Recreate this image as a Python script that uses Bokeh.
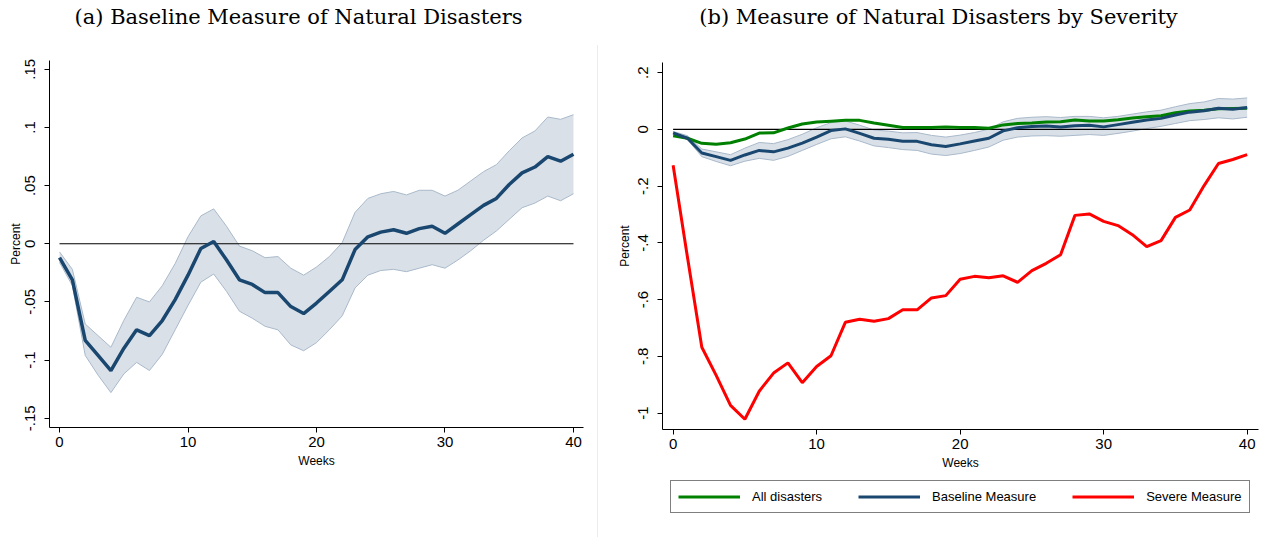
from bokeh.plotting import figure
from bokeh.layouts import row, column
from bokeh.models import FixedTicker, Legend, LegendItem, Div
from bokeh.embed import file_html
from bokeh.resources import INLINE

# ---------------- data ----------------
weeks = list(range(41))

baseline = [-0.012, -0.031, -0.083, -0.096, -0.109, -0.090, -0.074, -0.079, -0.066, -0.048,
            -0.027, -0.004, 0.002, -0.014, -0.031, -0.035, -0.042, -0.042, -0.054, -0.060,
            -0.051, -0.041, -0.031, -0.005, 0.006, 0.010, 0.012, 0.009, 0.013, 0.015,
            0.009, 0.017, 0.025, 0.033, 0.039, 0.051, 0.061, 0.066, 0.075, 0.071, 0.077]

baseline_hi = [-0.007, -0.022, -0.069, -0.079, -0.089, -0.066, -0.046, -0.050, -0.036, -0.017,
               0.006, 0.024, 0.030, 0.015, -0.002, -0.006, -0.012, -0.011, -0.021, -0.027,
               -0.020, -0.011, 0.001, 0.027, 0.039, 0.043, 0.045, 0.042, 0.046, 0.046,
               0.041, 0.046, 0.054, 0.062, 0.068, 0.080, 0.091, 0.097, 0.109, 0.107, 0.111]

baseline_lo = [-0.016, -0.036, -0.096, -0.113, -0.128, -0.112, -0.102, -0.109, -0.095, -0.074,
               -0.053, -0.033, -0.026, -0.041, -0.058, -0.064, -0.071, -0.074, -0.087, -0.092,
               -0.085, -0.074, -0.062, -0.038, -0.027, -0.023, -0.022, -0.024, -0.021, -0.018,
               -0.021, -0.014, -0.006, 0.003, 0.011, 0.021, 0.031, 0.035, 0.041, 0.037, 0.043]

all_disasters = [-0.022, -0.031, -0.049, -0.052, -0.047, -0.034, -0.013, -0.012, 0.005, 0.019,
                 0.026, 0.029, 0.032, 0.032, 0.023, 0.015, 0.007, 0.007, 0.007, 0.009,
                 0.007, 0.007, 0.004, 0.016, 0.021, 0.023, 0.026, 0.027, 0.033, 0.030,
                 0.030, 0.034, 0.040, 0.045, 0.048, 0.059, 0.065, 0.068, 0.073, 0.074, 0.075]

severe = [-0.126, -0.451, -0.768, -0.867, -0.973, -1.022, -0.923, -0.859, -0.823, -0.893,
          -0.836, -0.798, -0.680, -0.669, -0.676, -0.667, -0.636, -0.636, -0.594, -0.586,
          -0.528, -0.518, -0.523, -0.516, -0.539, -0.498, -0.472, -0.442, -0.303, -0.298,
          -0.324, -0.339, -0.371, -0.413, -0.392, -0.310, -0.284, -0.198, -0.120, -0.106, -0.089]

zero_x = [0, 40]
zero_y = [0, 0]

x_ticks = [0, 10, 20, 30, 40]
a_yticks = [-0.15, -0.1, -0.05, 0, 0.05, 0.1, 0.15]
a_ylabels = ["-.15", "-.1", "-.05", "0", ".05", ".1", ".15"]
b_yticks = [-1, -0.8, -0.6, -0.4, -0.2, 0, 0.2]
b_ylabels = ["-1", "-.8", "-.6", "-.4", "-.2", "0", ".2"]

title_a = "(a) Baseline Measure of Natural Disasters"
title_b = "(b) Measure of Natural Disasters by Severity"
legend_labels = ["All disasters", "Baseline Measure", "Severe Measure"]

NAVY = "#1a476f"
BAND_FILL = "#d9e0e8"
BAND_EDGE = "#a9b9ca"
GREEN = "#008000"
RED = "#ff0000"
SANS = "Liberation Sans"
SERIF = "DejaVu Serif"


def style(p, yticks, ylabels, ylab_standoff):
    p.xgrid.visible = False
    p.ygrid.visible = False
    p.outline_line_color = None
    for ax in (p.xaxis[0], p.yaxis[0]):
        ax.axis_line_color = "black"
        ax.axis_line_width = 1
        ax.major_tick_line_color = "black"
        ax.major_tick_out = 5
        ax.major_tick_in = 0
        ax.minor_tick_line_color = None
        ax.major_label_text_font = SANS
        ax.major_label_text_font_size = "15px"
        ax.major_label_text_color = "black"
        ax.axis_label_text_font = SANS
        ax.axis_label_text_font_size = "12px"
        ax.axis_label_text_font_style = "normal"
        ax.axis_label_text_color = "black"
        ax.major_label_standoff = 4
        ax.axis_label_standoff = 4
    p.yaxis.major_label_standoff = 9
    p.yaxis.axis_label_standoff = ylab_standoff
    p.xaxis.ticker = FixedTicker(ticks=x_ticks)
    p.yaxis.ticker = FixedTicker(ticks=yticks)
    p.yaxis.major_label_overrides = dict(zip(yticks, ylabels))
    p.yaxis.major_label_orientation = "vertical"


def title_div(text, width):
    return Div(text=text, width=width, height=40, margin=0,
               styles={"font-family": SERIF, "font-size": "21px", "color": "black",
                       "text-align": "center", "padding-top": "4px", "line-height": "26px",
                       "white-space": "nowrap"})


# ---------------- panel (a) ----------------
pa = figure(width=597, height=497, x_range=(-0.78, 40.78), y_range=(-0.158, 0.1576),
            output_backend="svg", toolbar_location=None,
            x_axis_label="Weeks", y_axis_label="Percent",
            min_border_left=49, min_border_right=14, min_border_top=20, min_border_bottom=110)
style(pa, a_yticks, a_ylabels, 0)
pa.varea(x=weeks, y1=baseline_lo, y2=baseline_hi, fill_color=BAND_FILL)
pa.line(weeks, baseline_lo, line_color=BAND_EDGE, line_width=1)
pa.line(weeks, baseline_hi, line_color=BAND_EDGE, line_width=1)
pa.line(zero_x, zero_y, line_color="black", line_width=1.2)
pa.line(weeks, baseline, line_color=NAVY, line_width=3.5)

# ---------------- panel (b) ----------------
pb = figure(width=681, height=435, x_range=(-0.74, 40.79), y_range=(-1.058, 0.236),
            output_backend="svg", toolbar_location=None,
            x_axis_label="Weeks", y_axis_label="Percent",
            min_border_left=64, min_border_right=21, min_border_top=22, min_border_bottom=46)
style(pb, b_yticks, b_ylabels, 4)
pb.varea(x=weeks, y1=baseline_lo, y2=baseline_hi, fill_color=BAND_FILL)
pb.line(weeks, baseline_lo, line_color=BAND_EDGE, line_width=1)
pb.line(weeks, baseline_hi, line_color=BAND_EDGE, line_width=1)
pb.line(zero_x, zero_y, line_color="black", line_width=1.2)
pb.line(weeks, all_disasters, line_color=GREEN, line_width=3)
pb.line(weeks, baseline, line_color=NAVY, line_width=3)
pb.line(weeks, severe, line_color=RED, line_width=3)

# ---------------- legend strip under panel (b) ----------------
# the series are re-drawn here outside the visible x range, only to feed the legend keys
lf = figure(width=681, height=62, x_range=(-20, -19), y_range=(-1.1, 0.3),
            output_backend="svg", toolbar_location=None,
            x_axis_type=None, y_axis_type=None, min_border=0)
lf.xgrid.visible = False
lf.ygrid.visible = False
lf.outline_line_color = None
swatches = [lf.line(weeks, ys, line_color=c, line_width=3)
            for ys, c in ((all_disasters, GREEN), (baseline, NAVY), (severe, RED))]
legend = Legend(items=[LegendItem(label=lab, renderers=[r]) for lab, r in zip(legend_labels, swatches)],
                orientation="horizontal", location=(8, 24),
                border_line_color="black", border_line_width=1,
                glyph_width=62, glyph_height=17, label_height=17,
                label_standoff=12, spacing=36, padding=7, margin=0,
                label_text_font=SANS, label_text_font_size="13px", label_text_color="black")
lf.add_layout(legend)

sep = Div(text="", width=1, height=492, margin=(45, 0, 0, 0),
          styles={"background-color": "#ececec"})

layout = row(column(title_div(title_a, 597), pa, spacing=0),
             sep,
             column(title_div(title_b, 681), pb, lf, spacing=0),
             spacing=0)
open("out.html", "w").write(file_html(layout, INLINE))
